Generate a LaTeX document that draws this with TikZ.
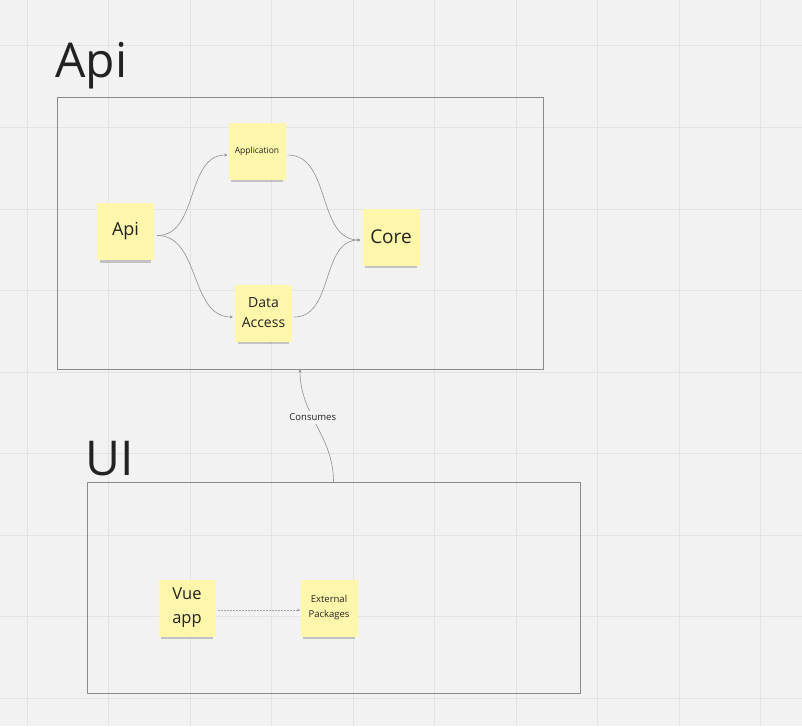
\documentclass[tikz,border=0pt]{standalone}
\usepackage{fontspec}
\setmainfont{Open Sans}
\usetikzlibrary{arrows.meta,shadows,calc}
\definecolor{bg}{HTML}{F2F2F2}
\definecolor{gridc}{HTML}{E3E3E3}
\definecolor{sticky}{HTML}{FEF7AB}
\definecolor{framec}{HTML}{8A8A8A}
\definecolor{linkc}{HTML}{8F8F8F}
\definecolor{ink}{HTML}{222222}
\tikzset{
  stickybox/.style={fill=sticky, draw=none, text=ink, inner sep=0pt, align=center,
    minimum width=57pt, minimum height=57pt,
    drop shadow={shadow xshift=0pt, shadow yshift=-6pt, shadow scale=0.9, opacity=0.28, fill=black!70}},
  framebox/.style={draw=framec, line width=0.9pt, fill=none, inner sep=0pt},
  link/.style={draw=linkc, line width=0.6pt, -{Stealth[length=3pt,width=3pt]}},
  title/.style={text=ink, inner sep=0pt, anchor=base west, font=\fontsize{48}{52}\selectfont}
}
\begin{document}
\begin{tikzpicture}[x=1pt,y=-1pt]
\useasboundingbox (0,0) rectangle (802,726);
\fill[bg] (0,0) rectangle (802,726);
\foreach \gx in {27,108.5,190,271.5,353,434.5,516,597.5,679,760.5}
  \draw[gridc, line width=0.8pt] (\gx,0) -- (\gx,726);
\foreach \gy in {45,127,209,290.5,372,453.5,535,616.5,698}
  \draw[gridc, line width=0.8pt] (0,\gy) -- (802,\gy);

% titles
\node[title] (tapi) at (55,77) {Api};
\node[title] (tui) at (85,475) {UI};

% frames
\node[framebox, minimum width=486pt, minimum height=272pt] (apiframe) at (300,233) {};
\node[framebox, minimum width=493pt, minimum height=211pt] (uiframe) at (333.5,587.5) {};

% stickies
\node[stickybox, font=\fontsize{18}{20}\selectfont] (api) at (125.5,231.5) {Api};
\node[stickybox, font=\fontsize{8.5}{10}\selectfont] (app) at (257,151) {Application};
\node[stickybox, font=\fontsize{19}{22}\selectfont] (core) at (391,237) {Core};
\node[stickybox, font=\fontsize{14}{20}\selectfont] (da) at (263.5,313) {Data\\Access};
\node[stickybox, font=\fontsize{16.5}{24}\selectfont] (vue) at (187,608) {Vue\\app};
\node[stickybox, font=\fontsize{9.5}{15}\selectfont] (ext) at (329,608) {External\\Packages};

% links
\draw[link] ($(api.east)+(3,4)$) to[out=0,in=180] ($(app.west)+(-1,4)$);
\draw[link] ($(api.east)+(3,4)$) to[out=0,in=180] ($(da.west)+(-2,4)$);
\draw[link] ($(app.east)+(2,4)$) to[out=0,in=180] ($(core.west)+(-2,3)$);
\draw[link] ($(da.east)+(2,4)$) to[out=0,in=180] ($(core.west)+(-2,3)$);
\draw[link, draw=linkc!80, line width=0.5pt, densely dotted] ($(vue.east)+(2,2)$) -- ($(ext.west)+(0,2)$);

% consumes
\draw[link] (uiframe.north) to[out=90,in=-90] node[pos=0.58, fill=bg, inner sep=3pt, text=ink, font=\fontsize{9.5}{11}\selectfont] (cons) {Consumes} (apiframe.south);
\end{tikzpicture}
\end{document}
